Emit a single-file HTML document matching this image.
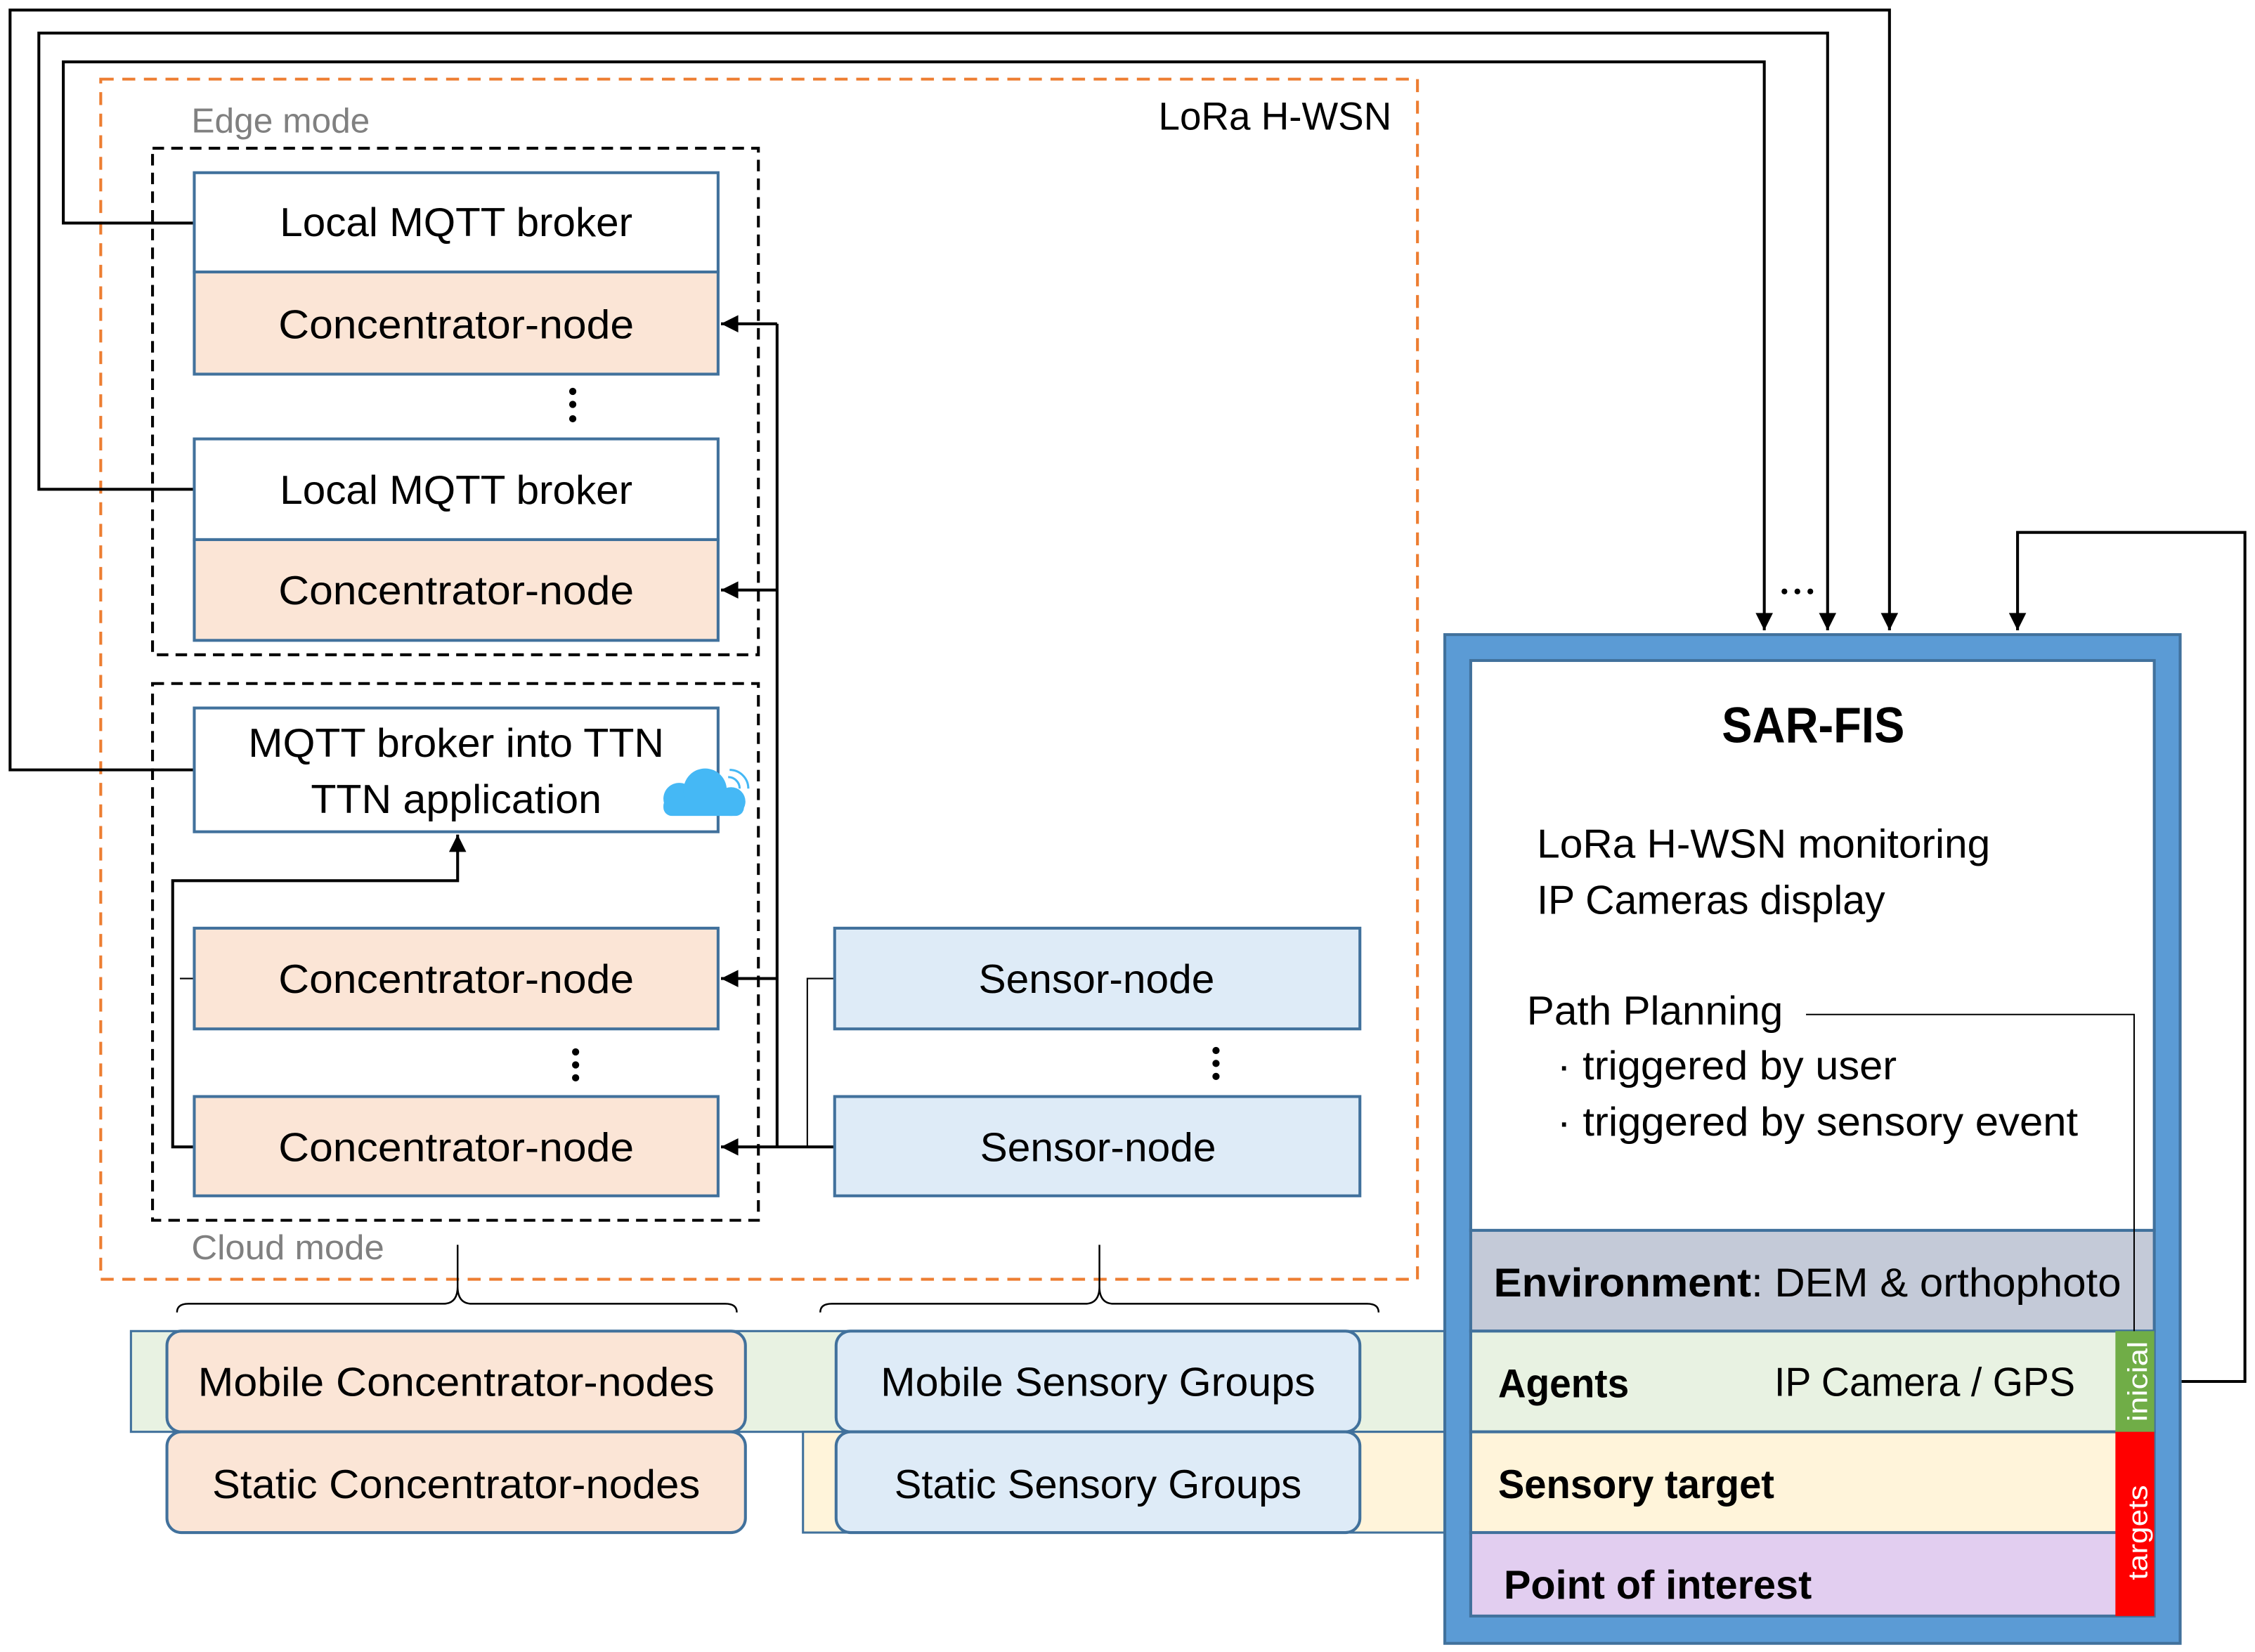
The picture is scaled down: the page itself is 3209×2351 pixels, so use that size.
<!DOCTYPE html>
<html><head><meta charset="utf-8"><style>html,body{margin:0;padding:0;background:#fff}svg{display:block}</style></head>
<body>
<svg width="3209" height="2351" viewBox="0 0 1567 1148" preserveAspectRatio="none" xmlns="http://www.w3.org/2000/svg" font-family="Liberation Sans, sans-serif">
<defs>
<marker id="a" viewBox="0 0 10 10" refX="10" refY="5" markerWidth="5" markerHeight="5" orient="auto-start-reverse" markerUnits="userSpaceOnUse"><path d="M0,0L10,5L0,10z" fill="#000"/></marker>
<marker id="b" viewBox="0 0 10 10" refX="10" refY="5" markerWidth="14" markerHeight="12" orient="auto" markerUnits="userSpaceOnUse"><path d="M0,0L10,5L0,10z" fill="#000"/></marker>
</defs>
<rect width="1567" height="1148" fill="#fff"/>
<!-- bands -->
<rect x="91" y="925" width="914" height="70" fill="#e8f2e2" stroke="#41719c" stroke-width="1.5"/>
<rect x="558" y="995" width="447" height="70" fill="#fff4da" stroke="#41719c" stroke-width="1.5"/>
<!-- orange dashed -->
<rect x="70" y="55" width="915" height="834" fill="none" stroke="#ed7d31" stroke-width="2" stroke-dasharray="9,6"/>
<text x="967" y="90" font-size="27" text-anchor="end" textLength="162" lengthAdjust="spacingAndGlyphs">LoRa H-WSN</text>
<text x="133" y="92" font-size="24" fill="#808080" textLength="124" lengthAdjust="spacingAndGlyphs">Edge mode</text>
<text x="133" y="875" font-size="24" fill="#808080" textLength="134" lengthAdjust="spacingAndGlyphs">Cloud mode</text>
<!-- dashed boxes -->
<rect x="106" y="103" width="421" height="352" fill="none" stroke="#000" stroke-width="2" stroke-dasharray="8,5"/>
<rect x="106" y="475" width="421" height="373" fill="none" stroke="#000" stroke-width="2" stroke-dasharray="8,5"/>
<!-- top feedback lines -->
<g fill="none" stroke="#000" stroke-width="2">
<polyline points="135,535 7,535 7,7 1313,7 1313,438" marker-end="url(#b)"/>
<polyline points="135,340 27,340 27,23 1270,23 1270,438" marker-end="url(#b)"/>
<polyline points="135,155 44,155 44,43 1226,43 1226,438" marker-end="url(#b)"/>
<polyline points="1516,960 1560,960 1560,370 1402,370 1402,438" marker-end="url(#b)"/>
<!-- bus -->
<line x1="540" y1="225" x2="540" y2="797"/>
<line x1="540" y1="225" x2="501" y2="225" marker-end="url(#b)"/>
<line x1="540" y1="410" x2="501" y2="410" marker-end="url(#b)"/>
<line x1="540" y1="680" x2="501" y2="680" marker-end="url(#b)"/>
<line x1="580" y1="797" x2="501" y2="797" marker-end="url(#b)"/>
<polyline points="135,797 120,797 120,612 318,612 318,580" marker-end="url(#b)"/>
</g>
<g fill="none" stroke="#000" stroke-width="1">
<polyline points="580,680 561,680 561,797"/>
<line x1="125" y1="680" x2="135" y2="680"/>
</g>
<!-- node boxes -->
<g stroke="#41719c" stroke-width="2">
<rect x="135" y="120" width="364" height="69" fill="#fff"/>
<rect x="135" y="189" width="364" height="71" fill="#fbe5d6"/>
<rect x="135" y="305" width="364" height="70" fill="#fff"/>
<rect x="135" y="375" width="364" height="70" fill="#fbe5d6"/>
<rect x="135" y="492" width="364" height="86" fill="#fff"/>
<rect x="135" y="645" width="364" height="70" fill="#fbe5d6"/>
<rect x="135" y="762" width="364" height="69" fill="#fbe5d6"/>
<rect x="580" y="645" width="365" height="70" fill="#deebf7"/>
<rect x="580" y="762" width="365" height="69" fill="#deebf7"/>
</g>
<g font-size="28" text-anchor="middle">
<text x="317" y="164" textLength="245" lengthAdjust="spacingAndGlyphs">Local MQTT broker</text>
<text x="317" y="235" textLength="247" lengthAdjust="spacingAndGlyphs">Concentrator-node</text>
<text x="317" y="350" textLength="245" lengthAdjust="spacingAndGlyphs">Local MQTT broker</text>
<text x="317" y="420" textLength="247" lengthAdjust="spacingAndGlyphs">Concentrator-node</text>
<text x="317" y="526" textLength="289" lengthAdjust="spacingAndGlyphs">MQTT broker into TTN</text>
<text x="317" y="565" textLength="202" lengthAdjust="spacingAndGlyphs">TTN application</text>
<text x="317" y="690" textLength="247" lengthAdjust="spacingAndGlyphs">Concentrator-node</text>
<text x="317" y="807" textLength="247" lengthAdjust="spacingAndGlyphs">Concentrator-node</text>
<text x="762" y="690" textLength="164" lengthAdjust="spacingAndGlyphs">Sensor-node</text>
<text x="763" y="807" textLength="164" lengthAdjust="spacingAndGlyphs">Sensor-node</text>
</g>
<!-- dots -->
<g fill="#000">
<circle cx="398" cy="272" r="2.5"/><circle cx="398" cy="281" r="2.5"/><circle cx="398" cy="291" r="2.5"/>
<circle cx="400" cy="731" r="2.5"/><circle cx="400" cy="740" r="2.5"/><circle cx="400" cy="749" r="2.5"/>
<circle cx="845" cy="730" r="2.5"/><circle cx="845" cy="739" r="2.5"/><circle cx="845" cy="748" r="2.5"/>
<circle cx="1240" cy="411" r="2"/><circle cx="1249" cy="411" r="2"/><circle cx="1258" cy="411" r="2"/>
</g>
<!-- cloud -->
<g fill="#45b8f5">
<circle cx="472" cy="555" r="11"/><circle cx="490" cy="549" r="15"/><circle cx="508" cy="557" r="10"/>
<rect x="461" y="554" width="56" height="13" rx="6"/>
</g>
<g fill="none" stroke="#45b8f5" stroke-width="1.5"><path d="M506,540a8,8 0 0 1 8,8"/><path d="M507,535a13,13 0 0 1 13,13"/></g>
<!-- braces -->
<g fill="none" stroke="#000" stroke-width="1.2">
<path d="M123,912 q0,-6 8,-6 L308,906 q10,0 10,-12 L318,865 M318,894 q0,12 10,12 L504,906 q8,0 8,6"/>
<path d="M570,912 q0,-6 8,-6 L754,906 q10,0 10,-12 L764,865 M764,894 q0,12 10,12 L950,906 q8,0 8,6"/>
</g>
<!-- group boxes -->
<g stroke="#41719c" stroke-width="2">
<rect x="116" y="925" width="402" height="70" rx="10" fill="#fbe5d6"/>
<rect x="116" y="995" width="402" height="70" rx="10" fill="#fbe5d6"/>
<rect x="581" y="925" width="364" height="70" rx="10" fill="#deebf7"/>
<rect x="581" y="995" width="364" height="70" rx="10" fill="#deebf7"/>
</g>
<g font-size="28" text-anchor="middle">
<text x="317" y="970" textLength="359" lengthAdjust="spacingAndGlyphs">Mobile Concentrator-nodes</text>
<text x="317" y="1041" textLength="339" lengthAdjust="spacingAndGlyphs">Static Concentrator-nodes</text>
<text x="763" y="970" textLength="302" lengthAdjust="spacingAndGlyphs">Mobile Sensory Groups</text>
<text x="763" y="1041" textLength="283" lengthAdjust="spacingAndGlyphs">Static Sensory Groups</text>
</g>
<!-- SAR-FIS -->
<rect x="1004" y="441" width="511" height="701" fill="#5b9bd5" stroke="#41719c" stroke-width="2"/>
<rect x="1022" y="459" width="475" height="396" fill="#fff" stroke="#41719c" stroke-width="2"/>
<rect x="1022" y="855" width="475" height="70" fill="#c4cad8" stroke="#41719c" stroke-width="2"/>
<rect x="1022" y="925" width="475" height="70" fill="#e8f2e2" stroke="#41719c" stroke-width="2"/>
<rect x="1022" y="995" width="475" height="70" fill="#fff4da" stroke="#41719c" stroke-width="2"/>
<rect x="1022" y="1065" width="475" height="58" fill="#e2cef0" stroke="#41719c" stroke-width="2"/>
<rect x="1470" y="925" width="27" height="70" fill="#70ad47"/>
<rect x="1470" y="995" width="27" height="128" fill="#ff0000"/>
<text transform="translate(1492,988) rotate(-90)" font-size="19" fill="#fff" textLength="56" lengthAdjust="spacingAndGlyphs">inicial</text>
<text transform="translate(1492,1098) rotate(-90)" font-size="19" fill="#fff" textLength="66" lengthAdjust="spacingAndGlyphs">targets</text>
<polyline points="1255,705 1483,705 1483,925" fill="none" stroke="#000" stroke-width="1"/>
<text x="1260" y="516" font-size="35" font-weight="bold" text-anchor="middle" textLength="127" lengthAdjust="spacingAndGlyphs">SAR-FIS</text>
<g font-size="28">
<text x="1068" y="596" textLength="315" lengthAdjust="spacingAndGlyphs">LoRa H-WSN monitoring</text>
<text x="1068" y="635" textLength="242" lengthAdjust="spacingAndGlyphs">IP Cameras display</text>
<text x="1061" y="712" textLength="178" lengthAdjust="spacingAndGlyphs">Path Planning</text>
<text x="1082" y="750" textLength="236" lengthAdjust="spacingAndGlyphs">· triggered by user</text>
<text x="1082" y="789" textLength="362" lengthAdjust="spacingAndGlyphs">· triggered by sensory event</text>
<text x="1038" y="901" textLength="436" lengthAdjust="spacingAndGlyphs"><tspan font-weight="bold">Environment</tspan>: DEM &amp; orthophoto</text>
<text x="1041" y="971" font-weight="bold" textLength="91" lengthAdjust="spacingAndGlyphs">Agents</text>
<text x="1233" y="970" textLength="209" lengthAdjust="spacingAndGlyphs">IP Camera / GPS</text>
<text x="1041" y="1041" font-weight="bold" textLength="192" lengthAdjust="spacingAndGlyphs">Sensory target</text>
<text x="1045" y="1111" font-weight="bold" textLength="214" lengthAdjust="spacingAndGlyphs">Point of interest</text>
</g>
</svg>
</body></html>
